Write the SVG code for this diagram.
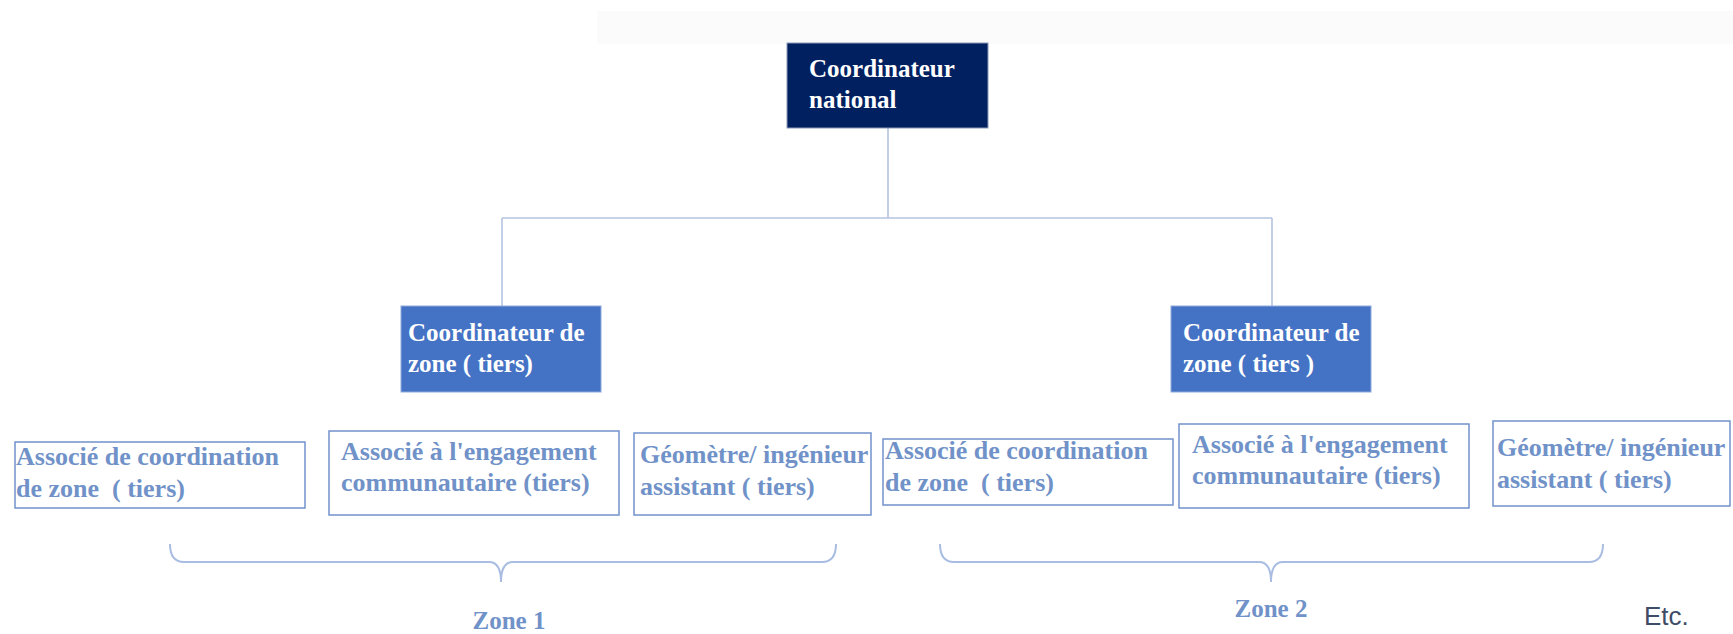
<svg xmlns="http://www.w3.org/2000/svg" width="1733" height="634" viewBox="0 0 1733 634">
<style>
.bg{fill:#ffffff}
.band{fill:#fbfbfb}
.navy{fill:#002060;stroke:#8a98b8;stroke-width:1}
.zc{fill:#4472c4;stroke:#8faadc;stroke-width:1}
.wt{font-family:"Liberation Serif",serif;font-weight:bold;fill:#ffffff}
.box{fill:#ffffff;stroke:#7093cc;stroke-width:1.5}
.bt{font-family:"Liberation Serif",serif;font-weight:bold;font-size:26px;fill:#7092c8}
.conn{fill:none;stroke:#b4c4e0;stroke-width:1.6}
.brace{fill:none;stroke:#a9bde2;stroke-width:2}
.zone{font-family:"Liberation Serif",serif;font-weight:bold;font-size:25px;fill:#7092c8;text-anchor:middle}
.etc{font-family:"Liberation Sans",sans-serif;font-size:26px;fill:#3e4c66}
</style>
<rect class="bg" x="0" y="0" width="1733" height="634"/>
<rect class="band" x="597" y="11" width="1136" height="33"/>
<g id="connectors">
<path class="conn" d="M888,128 L888,218 M502,218 L1272,218 M502,218 L502,306 M1272,218 L1272,306"/>
<path class="brace" d="M170,544 Q170,562 184,562 L489,562 Q501,562 501,582 Q501,562 513,562 L822,562 Q836,562 836,544"/>
<path class="brace" d="M940,544 Q940,562 954,562 L1259,562 Q1271,562 1271,582 Q1271,562 1283,562 L1589,562 Q1603,562 1603,544"/>
</g>
<g id="coordinateur-national">
<rect class="navy" x="787" y="43" width="201" height="85"/>
<text class="wt" font-size="25" x="809" y="77">Coordinateur</text>
<text class="wt" font-size="25" x="809" y="108">national</text>
</g>
<g id="coordinateur-zone-1">
<rect class="zc" x="401" y="306" width="200" height="86"/>
<text class="wt" font-size="25" x="408" y="341">Coordinateur de</text>
<text class="wt" font-size="25" x="408" y="372">zone ( tiers)</text>
</g>
<g id="coordinateur-zone-2">
<rect class="zc" x="1171" y="306" width="200" height="86"/>
<text class="wt" font-size="25" x="1183" y="341">Coordinateur de</text>
<text class="wt" font-size="25" x="1183" y="372">zone ( tiers )</text>
</g>
<g id="z1-associe-coordination">
<rect class="box" x="15" y="442" width="290" height="66"/>
<text class="bt" x="16" y="465" xml:space="preserve">Associé de coordination</text>
<text class="bt" x="16" y="497" xml:space="preserve">de zone  ( tiers)</text>
</g>
<g id="z1-associe-engagement">
<rect class="box" x="329" y="431" width="290" height="84"/>
<text class="bt" x="341" y="460">Associé à l'engagement</text>
<text class="bt" x="341" y="491">communautaire (tiers)</text>
</g>
<g id="z1-geometre">
<rect class="box" x="634" y="433" width="237" height="82"/>
<text class="bt" x="640" y="463">Géomètre/ ingénieur</text>
<text class="bt" x="640" y="495">assistant ( tiers)</text>
</g>
<g id="z2-associe-coordination">
<rect class="box" x="883" y="439" width="290" height="66"/>
<text class="bt" x="885" y="459" xml:space="preserve">Associé de coordination</text>
<text class="bt" x="885" y="491" xml:space="preserve">de zone  ( tiers)</text>
</g>
<g id="z2-associe-engagement">
<rect class="box" x="1179" y="424" width="290" height="84"/>
<text class="bt" x="1192" y="453">Associé à l'engagement</text>
<text class="bt" x="1192" y="484">communautaire (tiers)</text>
</g>
<g id="z2-geometre">
<rect class="box" x="1493" y="421" width="237" height="85"/>
<text class="bt" x="1497" y="456">Géomètre/ ingénieur</text>
<text class="bt" x="1497" y="488">assistant ( tiers)</text>
</g>
<g id="labels">
<text class="zone" x="509" y="629">Zone 1</text>
<text class="zone" x="1271" y="617">Zone 2</text>
<text class="etc" x="1644" y="625">Etc.</text>
</g>
</svg>
